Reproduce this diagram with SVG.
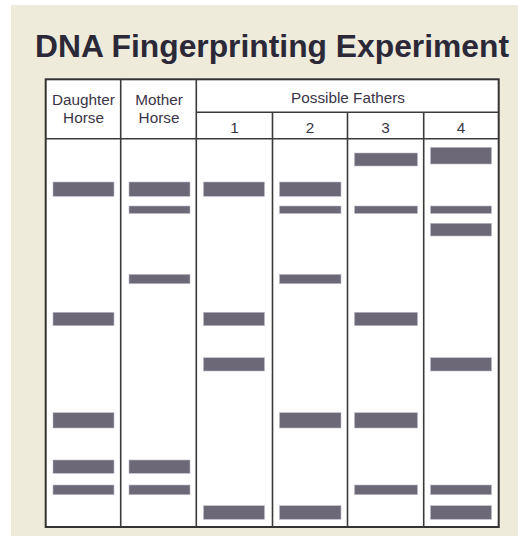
<svg xmlns="http://www.w3.org/2000/svg" width="518" height="536" viewBox="0 0 518 536">
  <style>
    .title { font-family: "Liberation Sans", Arial, sans-serif; font-weight: bold; font-size: 31px; fill: #2b2837; }
    .hdr { font-family: "Liberation Sans", Arial, sans-serif; font-size: 15.3px; fill: #3b3548; text-anchor: middle; }
    .num { font-family: "Liberation Sans", Arial, sans-serif; font-size: 15.3px; fill: #3b3548; text-anchor: middle; }
    .grid { stroke: #3a3a3a; stroke-width: 1.6; fill: none; }
    .outer { stroke: #333; stroke-width: 2; fill: #ffffff; }
    .band { fill: #6d6878; stroke: #bdb9c6; stroke-width: 0.6; }
  </style>
  <rect x="0" y="0" width="518" height="536" fill="#ffffff"/>
  <rect x="11" y="5" width="507" height="531" fill="#eeebdb"/>
  <text class="title" x="35" y="57" textLength="474" lengthAdjust="spacingAndGlyphs">DNA Fingerprinting Experiment</text>

  <g id="table">
    <rect class="outer" x="45.7" y="79.3" width="453" height="447.7"/>
    <line class="grid" x1="120.7" y1="79.3" x2="120.7" y2="527"/>
    <line class="grid" x1="196.3" y1="79.3" x2="196.3" y2="527"/>
    <line class="grid" x1="272.5" y1="112.3" x2="272.5" y2="527"/>
    <line class="grid" x1="347.5" y1="112.3" x2="347.5" y2="527"/>
    <line class="grid" x1="423.7" y1="112.3" x2="423.7" y2="527"/>
    <line class="grid" x1="196.3" y1="112.3" x2="498.7" y2="112.3"/>
    <line class="grid" x1="45.7" y1="138.7" x2="498.7" y2="138.7"/>
  </g>

  <g id="headers">
    <text class="hdr" x="83.5" y="105">Daughter</text>
    <text class="hdr" x="83.5" y="123">Horse</text>
    <text class="hdr" x="159" y="105">Mother</text>
    <text class="hdr" x="159" y="123">Horse</text>
    <text class="hdr" x="348" y="103">Possible Fathers</text>
    <text class="num" x="234.5" y="133">1</text>
    <text class="num" x="310" y="133">2</text>
    <text class="num" x="385.5" y="133">3</text>
    <text class="num" x="461" y="133">4</text>
  </g>

  <g id="lane-daughter">
    <rect class="band" x="53" y="182" width="61" height="14.3"/>
    <rect class="band" x="53" y="312.3" width="61" height="13.4"/>
    <rect class="band" x="53" y="412.7" width="61" height="15.3"/>
    <rect class="band" x="53" y="460" width="61" height="13.3"/>
    <rect class="band" x="53" y="485" width="61" height="9.7"/>
  </g>
  <g id="lane-mother">
    <rect class="band" x="129" y="182" width="61" height="14.3"/>
    <rect class="band" x="129" y="206" width="61" height="7.5"/>
    <rect class="band" x="129" y="274.4" width="61" height="9.3"/>
    <rect class="band" x="129" y="460" width="61" height="13.3"/>
    <rect class="band" x="129" y="485" width="61" height="9.7"/>
  </g>
  <g id="lane-father1">
    <rect class="band" x="203.5" y="182" width="61" height="14.3"/>
    <rect class="band" x="203.5" y="312.3" width="61" height="13.4"/>
    <rect class="band" x="203.5" y="357.7" width="61" height="13.3"/>
    <rect class="band" x="203.5" y="505.7" width="61" height="13.6"/>
  </g>
  <g id="lane-father2">
    <rect class="band" x="279.5" y="182" width="61.5" height="14.3"/>
    <rect class="band" x="279.5" y="206" width="61.5" height="7.5"/>
    <rect class="band" x="279.5" y="274.4" width="61.5" height="9.3"/>
    <rect class="band" x="279.5" y="412.7" width="61.5" height="15.3"/>
    <rect class="band" x="279.5" y="505.7" width="61.5" height="13.6"/>
  </g>
  <g id="lane-father3">
    <rect class="band" x="354.5" y="153" width="63" height="13"/>
    <rect class="band" x="354.5" y="206" width="63" height="7.5"/>
    <rect class="band" x="354.5" y="312.3" width="63" height="13.4"/>
    <rect class="band" x="354.5" y="412.7" width="63" height="15.3"/>
    <rect class="band" x="354.5" y="485" width="63" height="9.7"/>
  </g>
  <g id="lane-father4">
    <rect class="band" x="430.5" y="147.3" width="61" height="16.7"/>
    <rect class="band" x="430.5" y="206" width="61" height="7.5"/>
    <rect class="band" x="430.5" y="223.3" width="61" height="12.7"/>
    <rect class="band" x="430.5" y="357.7" width="61" height="13.3"/>
    <rect class="band" x="430.5" y="485" width="61" height="9.7"/>
    <rect class="band" x="430.5" y="505.7" width="61" height="13.6"/>
  </g>
  <g id="connectors"/>
</svg>
